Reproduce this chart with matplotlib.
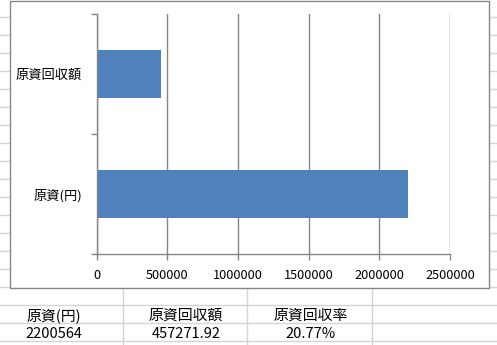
import numpy as np
import matplotlib.pyplot as plt
from matplotlib.patches import Rectangle

plt.rcParams['font.family'] = ['Noto Sans CJK JP', 'DejaVu Sans']

# chart data
categories = ['原資(円)', '原資回収額']
values = [2200564, 457271.92]
x_ticks = [0, 500000, 1000000, 1500000, 2000000, 2500000]

# table under the chart
table_headers = ['原資(円)', '原資回収額', '原資回収率']
table_values = ['2200564', '457271.92', '20.77%']

W, H = 497, 345
fig = plt.figure(figsize=(W / 100, H / 100), dpi=100)

# background sheet grid (pixel coords)
bg = fig.add_axes([0, 0, 1, 1])
bg.set_xlim(0, W)
bg.set_ylim(H, 0)
bg.axis('off')
grid_c = '#d4d4d4'
for y in np.arange(17, H, 18):
    if y < 288:
        bg.plot([0, 10], [y, y], color=grid_c, lw=1)
        bg.plot([489, W], [y, y], color=grid_c, lw=1)
    else:
        bg.plot([0, W], [y, y], color=grid_c, lw=1)
for x in [123, 247, 372]:
    bg.plot([x, x], [288, H], color=grid_c, lw=1)

# chart frame
bg.add_patch(Rectangle((10, 0.5), 479, 287.5, facecolor='white',
                       edgecolor='#868686', lw=1, zorder=3))

# table text
col_centers = [54, 186, 311]
for cx, head, val in zip(col_centers, table_headers, table_values):
    bg.text(cx, 316, head, ha='center', va='center', fontsize=10.7, color='black')
    bg.text(cx, 334.5, val, ha='center', va='center', fontsize=10.5, color='black')

# plot area
left, right, top, bottom = 96.7, 450, 14, 254
ax = fig.add_axes([left / W, (H - bottom) / H, (right - left) / W, (bottom - top) / H])
ax.set_zorder(5)
ax.patch.set_alpha(0)
gray = '#868686'
ypos = np.arange(len(categories))
ax.barh(ypos, values, height=0.4, color='#4f81bd', zorder=3)
ax.set_xlim(0, 2500000)
ax.set_ylim(-0.5, 1.5)
ax.set_xticks(x_ticks)
ax.set_xticklabels([str(t) for t in x_ticks], fontsize=9.2)
ax.xaxis.grid(True, color=gray, lw=1)
ax.set_axisbelow(False)
ax.set_yticks([-0.5, 0.5, 1.5])
ax.set_yticklabels([])
ax.set_yticks(ypos, minor=True)
ax.set_yticklabels(categories, minor=True, fontsize=9.5)
ax.tick_params(axis='y', which='minor', length=0, pad=10.5)
ax.tick_params(axis='y', which='major', length=4, color=gray, width=1)
ax.tick_params(axis='x', length=4, color=gray, width=1, pad=7)
for s in ['top', 'right']:
    ax.spines[s].set_visible(False)
for s in ['left', 'bottom']:
    ax.spines[s].set_color(gray)
    ax.spines[s].set_linewidth(1)
    ax.spines[s].set_zorder(4)

fig.savefig('out.png', dpi=100)
